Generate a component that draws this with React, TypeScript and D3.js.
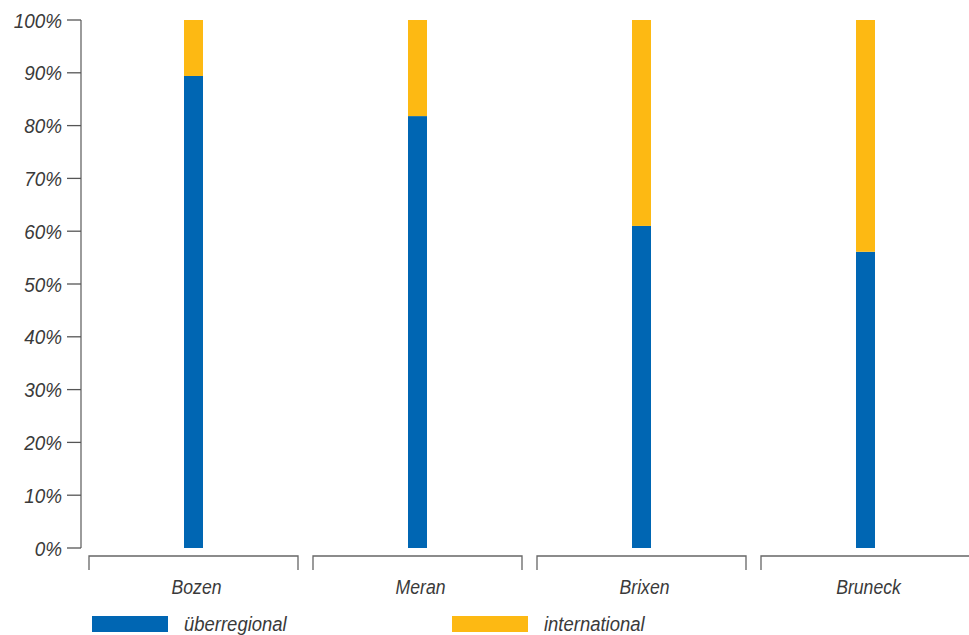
import React from "react";
import * as d3 from "d3";

const categories = ["Bozen", "Meran", "Brixen", "Bruneck"];
const ueberregional = [89.4, 81.8, 61.0, 56.1];
const international = [10.6, 18.2, 39.0, 43.9];
const yTicks = [0, 10, 20, 30, 40, 50, 60, 70, 80, 90, 100];
const seriesNames = ["überregional", "international"];
const colors = ["#0066b3", "#fdb913"];

const FONT = "'Liberation Sans', Arial, sans-serif";

function T({ x, y, anchor = "start", children, sx = 0.88 }: any) {
  return (
    <text
      transform={`translate(${x},${y}) scale(${sx},1)`}
      textAnchor={anchor}
      fontFamily={FONT}
      fontStyle="italic"
      fontSize={21}
      fill="#3a3a3a"
    >
      {children}
    </text>
  );
}

export default function App() {
  const W = 969, H = 635;
  const y = d3.scaleLinear().domain([0, 100]).range([548, 20]);
  const x = d3.scaleBand<string>().domain(categories).range([89, 89 + 224 * 4]).paddingInner(0).paddingOuter(0);
  const gap = 15;
  const barW = 19;
  const axisX = 81;
  const stack = d3.stack<any>().keys(["u", "i"])(
    categories.map((c, k) => ({ c, u: ueberregional[k], i: international[k] }))
  );
  return (
    <svg width={W} height={H} style={{ position: "absolute", left: 0, top: 0 }}>
      <rect width={W} height={H} fill="#fff" />
      <line x1={axisX} x2={axisX} y1={y(100)} y2={y(0)} stroke="#666" strokeWidth={1.3} />
      {yTicks.map((t) => (
        <g key={t}>
          <line x1={67} x2={axisX} y1={y(t)} y2={y(t)} stroke="#555" strokeWidth={1.3} />
          <T x={62} y={y(t) + 7.5} anchor="end" sx={0.9}>{t}%</T>
        </g>
      ))}
      {stack.map((s, si) =>
        s.map((d, k) => {
          const left = x(categories[k])!;
          const cx = left + (x.bandwidth() - gap) / 2;
          return (
            <rect key={si + "-" + k} x={cx - barW / 2} y={y(d[1])} width={barW} height={y(d[0]) - y(d[1])} fill={colors[si]} />
          );
        })
      )}
      {categories.map((c) => {
        const left = x(c)!;
        const right = left + x.bandwidth() - gap;
        return (
          <g key={c}>
            <path d={`M${left},570V556H${right}V570`} fill="none" stroke="#666" strokeWidth={1.3} />
            <T x={(left + right) / 2 + 3} y={594} anchor="middle" sx={0.84}>{c}</T>
          </g>
        );
      })}
      {seriesNames.map((n, i) => {
        const lx = [92, 452][i];
        return (
          <g key={n}>
            <rect x={lx} y={616} width={76} height={16} fill={colors[i]} />
            <T x={lx + 92} y={631} sx={0.88}>{n}</T>
          </g>
        );
      })}
    </svg>
  );
}
